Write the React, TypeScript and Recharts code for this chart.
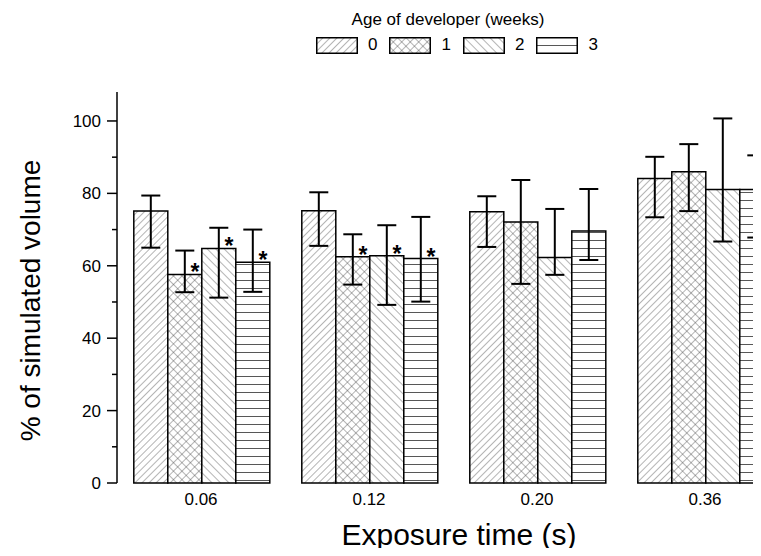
import { BarChart, Bar, XAxis, YAxis, ErrorBar, LabelList, Label } from 'recharts'

const categories = ['0.06', '0.12', '0.20', '0.36']
const ages = ['0', '1', '2', '3']

// % of simulated volume, per developer age (weeks)
const mean0 = [75.1, 75.2, 74.9, 84.1]
const high0 = [79.4, 80.3, 79.2, 90.1]
const low0 = [65.0, 65.5, 65.2, 73.4]

const mean1 = [57.6, 62.5, 72.1, 86.0]
const high1 = [64.2, 68.7, 83.7, 93.6]
const low1 = [52.7, 54.8, 55.0, 75.1]

const mean2 = [64.8, 62.8, 62.3, 81.1]
const high2 = [70.5, 71.2, 75.7, 100.7]
const low2 = [51.2, 49.2, 57.5, 66.7]

const mean3 = [61.0, 62.0, 69.6, 81.1]
const high3 = [70.0, 73.5, 81.2, 90.5]
const low3 = [52.8, 50.1, 61.6, 67.8]

// significance markers (*)
const sig0 = [0, 0, 0, 0]
const sig1 = [1, 1, 0, 0]
const sig2 = [1, 1, 0, 0]
const sig3 = [1, 1, 0, 0]

const yTicks = [0, 10, 20, 30, 40, 50, 60, 70, 80, 90, 100]

const series = [
    { mean: mean0, high: high0, low: low0, sig: sig0 },
    { mean: mean1, high: high1, low: low1, sig: sig1 },
    { mean: mean2, high: high2, low: low2, sig: sig2 },
    { mean: mean3, high: high3, low: low3, sig: sig3 },
]

const data = categories.map((c, i) => {
    const row: any = { name: c }
    series.forEach((s, k) => {
        row['v' + k] = s.mean[i]
        row['e' + k] = [s.mean[i] - s.low[i], s.high[i] - s.mean[i]]
        row['s' + k] = s.sig[i]
    })
    return row
})

const font = "'Liberation Sans', Arial, Helvetica, sans-serif"
const lineColor = '#444'

function Patterns({ prefix }: { prefix: string }) {
    return (
        <defs>
            <pattern id={prefix + '0'} patternUnits='userSpaceOnUse' width={5} height={5} patternTransform='rotate(45)'>
                <rect width={5} height={5} fill='#fff' />
                <line x1={0} y1={0} x2={0} y2={5} stroke={lineColor} strokeWidth={0.8} />
            </pattern>
            <pattern id={prefix + '1'} patternUnits='userSpaceOnUse' width={6} height={6} patternTransform='rotate(45)'>
                <rect width={6} height={6} fill='#fff' />
                <line x1={0} y1={0} x2={0} y2={6} stroke={lineColor} strokeWidth={0.8} />
                <line x1={0} y1={0} x2={6} y2={0} stroke={lineColor} strokeWidth={0.8} />
            </pattern>
            <pattern id={prefix + '2'} patternUnits='userSpaceOnUse' width={6} height={6} patternTransform='rotate(-45)'>
                <rect width={6} height={6} fill='#fff' />
                <line x1={0} y1={0} x2={0} y2={6} stroke={lineColor} strokeWidth={0.8} />
            </pattern>
            <pattern id={prefix + '3'} patternUnits='userSpaceOnUse' width={8} height={8}>
                <rect width={8} height={8} fill='#fff' />
                <line x1={0} y1={0.5} x2={8} y2={0.5} stroke={lineColor} strokeWidth={0.9} />
            </pattern>
        </defs>
    )
}

function YTick(props: any) {
    const { x, y, payload } = props
    const ax = x + 16
    const major = payload.value % 20 === 0
    return (
        <g>
            <line x1={ax - (major ? 10 : 5)} y1={y} x2={ax} y2={y} stroke='#000' strokeWidth={1.5} />
            {major && (
                <text x={x} y={y} dy='0.36em' textAnchor='end' fontSize={17} fontFamily={font} fill='#000'>
                    {payload.value}
                </text>
            )}
        </g>
    )
}

function Star(props: any) {
    const { x, y, width, value } = props
    if (!value) return null
    return (
        <text x={x + width * 0.8} y={y + 6} textAnchor='middle' fontSize={23} fontWeight='bold' fontFamily={font} fill='#000'>
            *
        </text>
    )
}

export default function App() {
    return (
        <div style={{ position: 'relative', width: 781, height: 540, fontFamily: font }}>
            <style>{'html,body{overflow:hidden}'}</style>
            <div style={{ position: 'absolute', left: 0, top: 2, width: 880, textAlign: 'center', fontSize: 17 }}>
                Age of developer (weeks)
            </div>
            <div style={{ position: 'absolute', left: 308, top: 27, display: 'flex', alignItems: 'center', fontSize: 17 }}>
                {ages.map((a, k) => (
                    <div key={a} style={{ display: 'flex', alignItems: 'center', marginRight: 12 }}>
                        <svg width={42} height={17}>
                            <Patterns prefix={'lg' + k + '-'} />
                            <rect x={0.75} y={0.75} width={40.5} height={15.5} fill={`url(#lg${k}-${k})`} stroke='#000' strokeWidth={1.5} />
                        </svg>
                        <span style={{ marginLeft: 10 }}>{a}</span>
                    </div>
                ))}
            </div>
            <BarChart
                width={781}
                height={548}
                data={data}
                margin={{ top: 84, right: 0, left: 0, bottom: 13 }}
                barCategoryGap='10%'
                barGap={0}
            >
                <Patterns prefix='p' />
                <XAxis
                    dataKey='name'
                    axisLine={false}
                    tickLine={false}
                    tickSize={0}
                    tickMargin={10}
                    height={60}
                    tick={{ fontSize: 17, fill: '#000', fontFamily: font }}
                >
                    <Label
                        content={(p: any) => {
                            const vb = p.viewBox
                            return (
                                <text x={vb.x + vb.width / 2 + 6} y={vb.y + 62} textAnchor='middle' fontSize={30} fontFamily={font} fill='#000'>
                                    Exposure time (s)
                                </text>
                            )
                        }}
                    />
                </XAxis>
                <YAxis
                    domain={[0, 108]}
                    ticks={yTicks}
                    interval={0}
                    width={109}
                    tickSize={10}
                    tickMargin={6}
                    tickLine={false}
                    axisLine={{ stroke: '#000', strokeWidth: 1.5 }}
                    tick={<YTick />}
                >
                    <Label
                        content={(p: any) => {
                            const vb = p.viewBox
                            const cy = vb.y + vb.height / 2 + 13
                            return (
                                <text x={22} y={cy} transform={`rotate(-90 22 ${cy})`} dy='0.36em' textAnchor='middle' fontSize={28} fontFamily={font} fill='#000'>
                                    % of simulated volume
                                </text>
                            )
                        }}
                    />
                </YAxis>
                {ages.map((a, k) => (
                    <Bar
                        key={a}
                        dataKey={'v' + k}
                        name={a}
                        fill={`url(#p${k})`}
                        stroke='#000'
                        strokeWidth={1.5}
                        isAnimationActive={false}
                    >
                        <ErrorBar dataKey={'e' + k} width={9.5} stroke='#000' strokeWidth={2} />
                        <LabelList dataKey={'s' + k} content={<Star />} />
                    </Bar>
                ))}
            </BarChart>
        </div>
    )
}
